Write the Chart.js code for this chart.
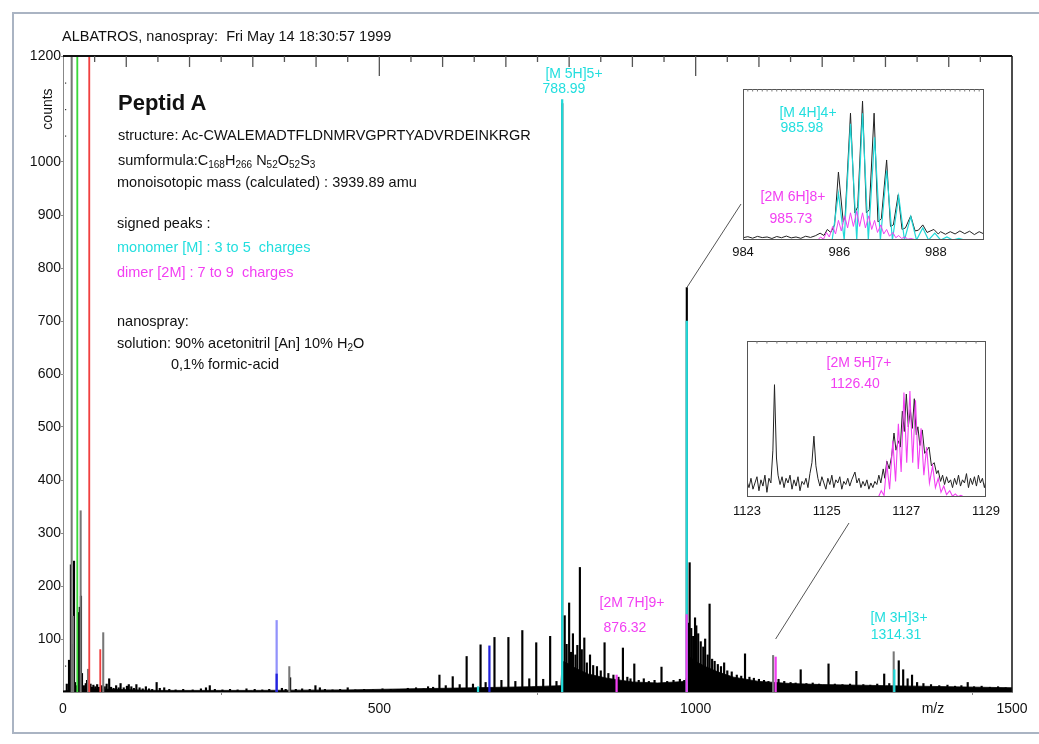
<!DOCTYPE html>
<html>
<head>
<meta charset="utf-8">
<script src="https://cdn.jsdelivr.net/npm/chart.js@4"></script>
<style>
  body { margin: 0; background: #fff; font-family: "Liberation Sans", Arial, sans-serif; color: #111; }
  #page { position: relative; width: 1039px; height: 744px; overflow: hidden; }
  #frame { position: absolute; left: 12px; top: 12px; width: 1040px; height: 718px; border: 2px solid #aab4c3; }
  canvas { position: absolute; }
  .t { position: absolute; white-space: nowrap; font-size: 14.5px; line-height: 16px; }
  .lbl { position: absolute; width: 140px; text-align: center; font-size: 14px; line-height: 18px; white-space: nowrap; }
  .cy { color: #22dede; }
  .mg { color: #f23ff2; }
  sub { font-size: 10px; vertical-align: -3px; line-height: 0; }
</style>
</head>
<body>
<div id="page">
  <div id="frame"></div>
  <canvas id="main" width="1039" height="744" style="left:0;top:0"></canvas>
  <canvas id="inset1" width="290" height="190" style="left:713px;top:79px"></canvas>
  <canvas id="inset2" width="290" height="200" style="left:717px;top:331px"></canvas>

  <div class="t" style="left:62px;top:28px;">ALBATROS, nanospray:&nbsp; Fri May 14 18:30:57 1999</div>
  <div class="t" style="left:17px;top:101px;width:60px;text-align:center;font-size:14px;transform:rotate(-90deg);">counts</div>

  <div class="t" style="left:118px;top:90px;font-size:22px;line-height:26px;font-weight:bold;">Peptid A</div>
  <div class="t" style="left:118px;top:127px;">structure: Ac-CWALEMADTFLDNMRVGPRTYADVRDEINKRGR</div>
  <div class="t" style="left:118px;top:152px;">sumformula:C<sub>168</sub>H<sub>266</sub> N<sub>52</sub>O<sub>52</sub>S<sub>3</sub></div>
  <div class="t" style="left:117px;top:174px;">monoisotopic mass (calculated) : 3939.89 amu</div>
  <div class="t" style="left:117px;top:215px;">signed peaks :</div>
  <div class="t cy" style="left:117px;top:239px;">monomer [M] : 3 to 5&nbsp; charges</div>
  <div class="t mg" style="left:117px;top:264px;">dimer [2M] : 7 to 9&nbsp; charges</div>
  <div class="t" style="left:117px;top:313px;">nanospray:</div>
  <div class="t" style="left:117px;top:335px;">solution: 90% acetonitril [An] 10% H<sub>2</sub>O</div>
  <div class="t" style="left:171px;top:356px;">0,1% formic-acid</div>

  <div class="lbl cy" style="left:504px;top:64px;">[M 5H]5+</div>
  <div class="lbl cy" style="left:494px;top:79px;">788.99</div>
  <div class="lbl mg" style="left:562px;top:593px;">[2M 7H]9+</div>
  <div class="lbl mg" style="left:555px;top:618px;">876.32</div>
  <div class="lbl cy" style="left:829px;top:608px;">[M 3H]3+</div>
  <div class="lbl cy" style="left:826px;top:625px;">1314.31</div>
  <div class="lbl cy" style="left:738px;top:103px;">[M 4H]4+</div>
  <div class="lbl cy" style="left:732px;top:118px;">985.98</div>
  <div class="lbl mg" style="left:723px;top:187px;">[2M 6H]8+</div>
  <div class="lbl mg" style="left:721px;top:209px;">985.73</div>
  <div class="lbl mg" style="left:789px;top:353px;">[2M 5H]7+</div>
  <div class="lbl mg" style="left:785px;top:374px;">1126.40</div>
</div>

<script>
// main spectrum: [m/z, counts]
const grayPeaks = [[13.7, 1500], [16, 143], [27.9, 342], [39.5, 43], [63.6, 112], [357.7, 48], [1122.4, 69], [1313, 76]];
const greenPeaks = [[22.6, 1500]];
const redPeaks = [[41.5, 1500], [58.9, 80]];
const lightBluePeaks = [[337.7, 135]];
const bluePeaks = [[337.7, 34], [674, 87]];
const cyanPeaks = [[656, 10], [789, 1118], [986, 700], [1314, 42]];
const magentaPeaks = [[875, 32], [985.73, 146], [1126.4, 66]];
const blackPeaks = [
  [6, 15], [9.5, 60], [11, 22], [12.5, 240], [14.2, 90], [17.4, 247], [19, 18], [21, 12], [25, 150], [26.5, 160],
  [28.4, 181], [30, 35], [33, 12], [36, 16], [38, 22], [41, 30], [43.5, 15], [46, 9], [48, 13], [51, 10],
  [54, 14], [57, 9], [61, 12], [66, 10], [69, 15], [73, 25], [76, 9], [80, 7], [84, 12], [88, 8],
  [91, 16], [96, 8], [101, 11], [104, 14], [108, 10], [112, 7], [116, 14], [121, 8], [126, 6], [131, 10],
  [136, 6], [141, 5], [148, 18], [153, 7], [160, 8], [168, 5], [178, 4], [190, 5], [205, 4], [218, 6],
  [226, 8], [232, 12], [240, 5], [252, 4], [264, 5], [276, 4], [290, 6], [303, 5], [315, 4], [326, 5],
  [346, 7], [352, 5], [359, 27], [368, 5], [378, 6], [390, 5], [399, 12], [406, 8], [414, 5], [426, 4],
  [438, 5], [450, 8], [462, 4], [476, 5], [490, 4], [505, 6], [518, 5], [532, 4], [545, 7], [558, 8],
  [570, 6], [577, 10], [585, 9], [595, 32], [605, 12], [616, 29], [627, 14], [638, 67], [648, 15], [660, 89],
  [668, 18], [682, 103], [693, 22], [704, 103], [715, 20], [726, 116], [737, 25], [748, 93], [759, 24], [770, 105],
  [780, 20], [789, 1110], [793, 144], [796, 90], [800, 168], [803, 75], [806, 110], [810, 70], [813, 88], [817, 235],
  [820, 80], [824, 102], [828, 55], [833, 70], [838, 50], [844, 48], [850, 40], [856, 93], [862, 35], [870, 32],
  [878, 28], [885, 83], [892, 28], [897, 25], [903, 53], [910, 22], [918, 25], [926, 20], [935, 22], [946, 47],
  [955, 20], [965, 22], [975, 24], [982, 22], [986, 763], [988, 130], [990.5, 244], [993, 120], [996, 105], [999, 140],
  [1001, 125], [1004, 110], [1008, 95], [1012, 85], [1015, 100], [1019, 70], [1022, 166], [1026, 62], [1030, 58], [1035, 52],
  [1040, 48], [1045, 55], [1050, 40], [1057, 38], [1065, 32], [1072, 30], [1078, 72], [1085, 28], [1092, 26], [1100, 24],
  [1108, 22], [1115, 20], [1131, 24], [1140, 20], [1150, 18], [1158, 17], [1166, 42], [1175, 16], [1185, 17], [1195, 15],
  [1210, 53], [1220, 15], [1232, 14], [1244, 15], [1254, 39], [1265, 14], [1276, 13], [1287, 15], [1298, 34], [1306, 16],
  [1321, 59], [1328, 42], [1335, 25], [1342, 32], [1350, 18], [1360, 16], [1372, 14], [1385, 12], [1398, 13], [1410, 11],
  [1420, 12], [1430, 18], [1440, 10], [1452, 11], [1465, 9], [1478, 10], [1490, 8], [1498, 7]
];
// dense noise floor (upper envelope)
const noiseBand = [
  [0, 2], [40, 6], [80, 5], [150, 3], [300, 3], [450, 4], [550, 6], [650, 8], [740, 10], [787, 12],
  [789, 58], [796, 55], [810, 45], [830, 34], [860, 26], [900, 19], [940, 17], [984, 20], [986, 30], [988, 68],
  [1000, 58], [1015, 48], [1035, 38], [1060, 28], [1100, 20], [1150, 16], [1200, 14], [1300, 12], [1400, 10], [1500, 8]
];
const mainXTicks = [0, 500, 1000, 1375, 1500];
const mainXLabels = ['0', '500', '1000', 'm/z', '1500'];
const mainYTicks = [100, 200, 300, 400, 500, 600, 700, 800, 900, 1000, 1200];

// inset 1: 984 - 989 (relative intensity)
const inset1Black = [
  [984.0, 1.5], [984.1, 2.2], [984.2, 1.2], [984.3, 2.4], [984.4, 1.6], [984.5, 2.0], [984.6, 1.0], [984.7, 2.3], [984.8, 1.5], [984.9, 2.6],
  [985.0, 1.4], [985.1, 2.0], [985.2, 1.1], [985.3, 2.5], [985.4, 1.7], [985.5, 2.8], [985.6, 4.5], [985.68, 3], [985.75, 7], [985.82, 5],
  [985.9, 10], [985.98, 45], [986.08, 12], [986.12, 16], [986.23, 84], [986.32, 18], [986.38, 22], [986.48, 92], [986.56, 18], [986.62, 20],
  [986.72, 84], [986.8, 12], [986.87, 14], [986.98, 53], [987.06, 9], [987.12, 10], [987.22, 30], [987.3, 7], [987.37, 8], [987.48, 16],
  [987.57, 6], [987.64, 6.5], [987.73, 10], [987.82, 5], [987.96, 7], [988.05, 4], [988.1, 5.5], [988.2, 3.8], [988.3, 5.5], [988.4, 4],
  [988.5, 6], [988.6, 4.2], [988.7, 5.8], [988.8, 3.6], [988.9, 5.5], [989.0, 4]
];
const inset1Cyan = [
  [985.85, 0], [985.98, 31], [986.1, 0], [986.23, 77], [986.36, 0], [986.48, 84], [986.6, 0], [986.73, 68], [986.85, 0], [986.98, 46],
  [987.1, 0], [987.23, 29], [987.35, 0], [987.48, 15.5], [987.6, 0], [987.73, 8], [987.85, 0], [987.98, 4.5], [988.1, 0], [988.23, 2],
  [988.35, 0], [988.48, 1], [988.6, 0]
];
const inset1Magenta = [
  [985.55, 0], [985.61, 2], [985.67, 0.5], [985.73, 5], [985.79, 2], [985.86, 9], [985.92, 4], [985.98, 13], [986.04, 6], [986.11, 16],
  [986.17, 8], [986.23, 18], [986.29, 9], [986.36, 19], [986.42, 9], [986.48, 18], [986.54, 8], [986.61, 16], [986.67, 7], [986.73, 13],
  [986.79, 5], [986.86, 10], [986.92, 4], [986.98, 7], [987.04, 2.5], [987.11, 5], [987.17, 1.5], [987.23, 3], [987.29, 1], [987.36, 2],
  [987.42, 0.5], [987.48, 1], [987.6, 0]
];
const inset1Ticks = [984, 986, 988];

// inset 2: 1123 - 1129
const inset2Black = [
  [1123.0, 10], [1123.05, 6], [1123.1, 12], [1123.15, 5], [1123.2, 9], [1123.25, 13], [1123.3, 4], [1123.35, 11], [1123.4, 7], [1123.45, 14],
  [1123.5, 3], [1123.55, 12], [1123.6, 9], [1123.65, 30], [1123.69, 72], [1123.74, 25], [1123.78, 14], [1123.83, 8], [1123.88, 13], [1123.93, 6],
  [1123.98, 12], [1124.03, 9], [1124.08, 14], [1124.13, 5], [1124.18, 11], [1124.23, 7], [1124.28, 13], [1124.33, 4], [1124.38, 10], [1124.43, 8],
  [1124.48, 12], [1124.53, 6], [1124.58, 15], [1124.63, 22], [1124.68, 39], [1124.73, 20], [1124.78, 12], [1124.83, 7], [1124.88, 13], [1124.93, 9],
  [1124.98, 5], [1125.03, 12], [1125.08, 8], [1125.13, 14], [1125.18, 6], [1125.23, 11], [1125.28, 9], [1125.33, 13], [1125.38, 5], [1125.43, 10],
  [1125.48, 8], [1125.53, 12], [1125.58, 7], [1125.63, 11], [1125.71, 16], [1125.76, 9], [1125.81, 12], [1125.86, 6], [1125.91, 10], [1125.96, 7],
  [1126.01, 11], [1126.06, 5], [1126.11, 9], [1126.16, 6], [1126.21, 10], [1126.26, 8], [1126.31, 14], [1126.36, 9], [1126.42, 18], [1126.46, 12],
  [1126.51, 23], [1126.57, 18], [1126.63, 26], [1126.69, 41], [1126.74, 30], [1126.8, 36], [1126.85, 32], [1126.9, 55], [1126.95, 42], [1127.0, 66],
  [1127.05, 45], [1127.1, 56], [1127.15, 44], [1127.2, 63], [1127.25, 40], [1127.29, 45], [1127.34, 33], [1127.4, 43], [1127.46, 28], [1127.52, 30],
  [1127.57, 32], [1127.63, 20], [1127.7, 22], [1127.76, 15], [1127.8, 17], [1127.86, 10], [1127.91, 14], [1127.96, 8], [1128.01, 13], [1128.06, 9],
  [1128.11, 11], [1128.16, 6], [1128.21, 12], [1128.26, 8], [1128.31, 14], [1128.36, 7], [1128.41, 11], [1128.46, 9], [1128.51, 15], [1128.56, 6],
  [1128.61, 12], [1128.66, 8], [1128.71, 13], [1128.76, 7], [1128.81, 14], [1128.86, 9], [1128.91, 12], [1128.96, 6], [1129.0, 11]
];
const inset2Magenta = [
  [1126.3, 0], [1126.37, 4], [1126.44, 1], [1126.51, 21], [1126.58, 5], [1126.66, 36], [1126.73, 10], [1126.8, 47], [1126.87, 16], [1126.94, 67],
  [1127.01, 22], [1127.09, 68], [1127.16, 22], [1127.23, 62], [1127.3, 18], [1127.37, 44], [1127.44, 14], [1127.51, 32], [1127.58, 9], [1127.66, 20],
  [1127.73, 6], [1127.8, 12], [1127.87, 3], [1127.94, 7], [1128.01, 1.5], [1128.09, 4], [1128.16, 0.5], [1128.23, 2], [1128.3, 0.3], [1128.37, 1],
  [1128.45, 0]
];
const inset2Ticks = [1123, 1125, 1127, 1129];

const FONT = '"Liberation Sans", Arial, sans-serif';
const CYAN = '#22d8d8';
const MAGENTA = '#f23ff2';

function pts(arr) {
    return arr.map(([x, y]) => ({ x: x, y: y }));
}

function sticks(data, color, thick) {
    return {
        type: 'bar',
        data: pts(data),
        backgroundColor: color,
        borderWidth: 0,
        barThickness: thick || 1.4,
        grouped: false
    };
}

const mainFrame = {
    id: 'mainFrame',
    afterDraw(chart) {
        const ctx = chart.ctx;
        const a = chart.chartArea;
        const xs = chart.scales.x;
        const ys = chart.scales.y;
        ctx.save();
        // top and right border
        ctx.strokeStyle = '#111';
        ctx.lineWidth = 2;
        ctx.beginPath();
        ctx.moveTo(a.left, a.top);
        ctx.lineTo(a.right, a.top);
        ctx.stroke();
        ctx.lineWidth = 1.5;
        ctx.beginPath();
        ctx.moveTo(a.right, a.top);
        ctx.lineTo(a.right, a.bottom);
        ctx.stroke();
        // inward ticks on the top edge
        ctx.strokeStyle = '#555';
        ctx.lineWidth = 1.3;
        for (let v = 50; v < 1500; v += 50) {
            const x = xs.getPixelForValue(v);
            const len = v % 500 === 0 ? 20 : (v % 100 === 0 ? 11 : 6);
            ctx.beginPath();
            ctx.moveTo(x, a.top);
            ctx.lineTo(x, a.top + len);
            ctx.stroke();
        }
        // small marks on the y axis
        ctx.fillStyle = '#333';
        [50, 1050, 1100, 1150].forEach(v => {
            ctx.fillRect(a.left + 2, ys.getPixelForValue(v), 1.2, 1.2);
        });
        // connector lines to the insets
        ctx.strokeStyle = '#555';
        ctx.lineWidth = 1;
        ctx.beginPath();
        ctx.moveTo(xs.getPixelForValue(986), ys.getPixelForValue(763));
        ctx.lineTo(741, 204);
        ctx.moveTo(xs.getPixelForValue(1126.4), ys.getPixelForValue(100));
        ctx.lineTo(849, 523);
        ctx.stroke();
        ctx.restore();
    }
};

new Chart(document.getElementById('main'), {
    data: {
        datasets: [
            sticks(magentaPeaks, MAGENTA, 1.6),
            sticks(cyanPeaks, CYAN, 1.6),
            sticks(bluePeaks, '#2222dd', 1.6),
            sticks(lightBluePeaks, 'rgba(110,110,250,0.75)', 1.6),
            sticks(greenPeaks, '#3ad83a', 1.2),
            sticks(redPeaks, '#f04040', 1.2),
            sticks(grayPeaks, '#777', 1.4),
            sticks(blackPeaks, '#000', 1.5),
            {
                type: 'line',
                data: pts(noiseBand),
                borderColor: '#000',
                borderWidth: 0.8,
                backgroundColor: '#000',
                fill: 'origin',
                pointRadius: 0,
                tension: 0
            }
        ]
    },
    options: {
        responsive: false,
        animation: false,
        devicePixelRatio: 1,
        layout: { padding: { left: 13, right: 27, top: 56, bottom: 0 } },
        plugins: { legend: { display: false }, tooltip: { enabled: false } },
        scales: {
            x: {
                type: 'linear',
                min: 0,
                max: 1500,
                offset: false,
                afterFit: s => { s.height = 52; },
                afterBuildTicks: s => { s.ticks = mainXTicks.map(v => ({ value: v })); },
                ticks: {
                    autoSkip: false,
                    maxRotation: 0,
                    padding: 6,
                    color: '#111',
                    font: { family: FONT, size: 14 },
                    callback: v => mainXLabels[mainXTicks.indexOf(v)]
                },
                grid: {
                    drawOnChartArea: false,
                    tickLength: 3,
                    color: c => (c.tick && c.tick.value === 1375 ? 'rgba(0,0,0,0)' : '#888')
                },
                border: { color: '#888', width: 1 }
            },
            y: {
                min: 0,
                max: 1200,
                afterFit: s => { s.width = 50; },
                afterBuildTicks: s => { s.ticks = mainYTicks.map(v => ({ value: v })); },
                ticks: {
                    autoSkip: false,
                    padding: 0,
                    color: '#111',
                    font: { family: FONT, size: 14 },
                    callback: v => String(v)
                },
                grid: { drawOnChartArea: false, tickLength: 2, color: '#888' },
                border: { color: '#888', width: 1 }
            }
        }
    },
    plugins: [mainFrame]
});

function insetBox(step) {
    return {
        id: 'insetBox',
        afterDraw(chart) {
            const ctx = chart.ctx;
            const a = chart.chartArea;
            const xs = chart.scales.x;
            ctx.save();
            ctx.strokeStyle = '#555';
            ctx.lineWidth = 1;
            ctx.strokeRect(a.left + 0.5, a.top + 0.5, a.width - 1, a.height - 1);
            ctx.strokeStyle = '#777';
            for (let v = xs.min + step; v < xs.max - step / 2; v += step) {
                const x = xs.getPixelForValue(v);
                ctx.beginPath();
                ctx.moveTo(x, a.top);
                ctx.lineTo(x, a.top + 2.5);
                ctx.stroke();
            }
            ctx.restore();
        }
    };
}

function traceSet(data, color, width) {
    return {
        type: 'line',
        data: pts(data),
        borderColor: color,
        borderWidth: width,
        pointRadius: 0,
        tension: 0,
        fill: false
    };
}

function makeInset(id, xmin, xmax, ticks, datasets, padding, labelPad, step) {
    new Chart(document.getElementById(id), {
        data: { datasets: datasets },
        options: {
            responsive: false,
            animation: false,
            devicePixelRatio: 1,
            layout: { padding: padding },
            plugins: { legend: { display: false }, tooltip: { enabled: false } },
            scales: {
                x: {
                    type: 'linear',
                    min: xmin,
                    max: xmax,
                    afterFit: s => { s.height = 22; },
                    afterBuildTicks: s => { s.ticks = ticks.map(v => ({ value: v })); },
                    ticks: {
                        autoSkip: false,
                        maxRotation: 0,
                        padding: labelPad,
                        color: '#111',
                        font: { family: FONT, size: 13 },
                        callback: v => String(v)
                    },
                    grid: { display: false, drawTicks: false },
                    border: { display: false }
                },
                y: { display: false, min: 0, max: 100 }
            }
        },
        plugins: [insetBox(step)]
    });
}

makeInset('inset1', 984, 989, inset1Ticks, [
    traceSet(inset1Magenta, MAGENTA, 1),
    traceSet(inset1Cyan, CYAN, 1.2),
    traceSet(inset1Black, '#222', 1)
], { left: 30, top: 10, right: 19, bottom: 7 }, 5, 0.1);

makeInset('inset2', 1123, 1129, inset2Ticks, [
    traceSet(inset2Magenta, MAGENTA, 1.1),
    traceSet(inset2Black, '#222', 1)
], { left: 30, top: 10, right: 21, bottom: 12 }, 7, 0.25);
</script>
</body>
</html>
